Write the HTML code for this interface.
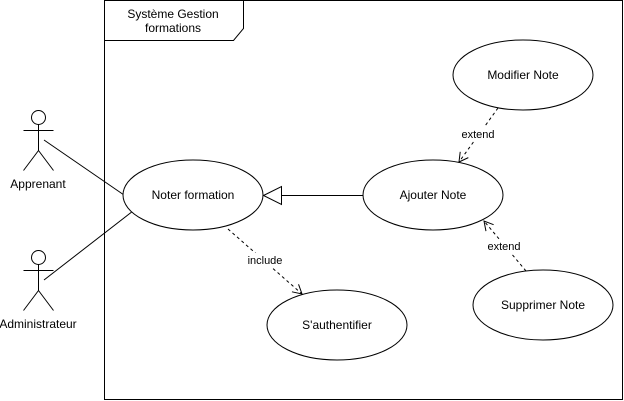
<!DOCTYPE html>
<html><head><meta charset="utf-8"><style>
html,body{margin:0;padding:0;background:#fff;}
svg{display:block;}
text{font-family:"Liberation Sans",Arial,sans-serif;font-size:12px;fill:#000;}
</style></head><body>
<svg width="624" height="401" viewBox="0 0 624 401" xmlns="http://www.w3.org/2000/svg">
<defs>
<marker id="open" markerWidth="12" markerHeight="12" refX="10" refY="6" orient="auto" markerUnits="userSpaceOnUse">
<path d="M1,1 L10,6 L1,11" fill="none" stroke="#000" stroke-width="1"/>
</marker>
</defs>
<g stroke="#000" stroke-width="1" fill="none">
<rect x="104.5" y="0.5" width="518" height="399"/>
<path d="M104.5,40.5 L233.5,40.5 L243.5,28.5 L243.5,0.5"/>
<!-- actors -->
<circle cx="38.5" cy="117.5" r="7" fill="#fff"/>
<path d="M38.5,124.5 V150.5 M23.5,130.5 H53.5 M38.5,150.5 L23.5,170.5 M38.5,150.5 L53.5,170.5"/>
<circle cx="38.5" cy="257.5" r="7" fill="#fff"/>
<path d="M38.5,264.5 V290.5 M23.5,270.5 H53.5 M38.5,290.5 L23.5,310.5 M38.5,290.5 L53.5,310.5"/>
<path d="M44,140 L124,195"/>
<path d="M44,280 L133,211"/>
<!-- ellipses -->
<ellipse cx="193" cy="195" rx="70" ry="35" fill="#fff"/>
<ellipse cx="433" cy="195" rx="70" ry="35" fill="#fff"/>
<ellipse cx="523" cy="75" rx="70" ry="35" fill="#fff"/>
<ellipse cx="543" cy="305" rx="70" ry="35" fill="#fff"/>
<ellipse cx="337" cy="325" rx="70" ry="35" fill="#fff"/>
<!-- generalization -->
<path d="M363,195.5 H281"/>
<path d="M263.5,195.5 L281.5,186.5 L281.5,204.5 Z" fill="#fff"/>
<!-- include / extend -->
<path d="M228,229 L302,294" stroke-dasharray="3,3" marker-end="url(#open)"/>
<path d="M498,108 L459,162" stroke-dasharray="3,3" marker-end="url(#open)"/>
<path d="M526,271 L484,221" stroke-dasharray="3,3" marker-end="url(#open)"/>
</g>
<rect x="247" y="253" width="36" height="14" fill="#fff"/>
<text x="265" y="264" text-anchor="middle" font-size="11" style="font-size:11px">include</text>
<rect x="461" y="127" width="34" height="14" fill="#fff"/>
<text x="478" y="138" text-anchor="middle" style="font-size:11px">extend</text>
<rect x="487" y="239" width="34" height="14" fill="#fff"/>
<text x="504" y="250" text-anchor="middle" style="font-size:11px">extend</text>
<text x="173" y="18" text-anchor="middle">Système Gestion</text>
<text x="173" y="32" text-anchor="middle">formations</text>
<text x="38" y="188" text-anchor="middle">Apprenant</text>
<text x="38" y="328" text-anchor="middle">Administrateur</text>
<text x="193" y="199" text-anchor="middle">Noter formation</text>
<text x="433" y="199" text-anchor="middle">Ajouter Note</text>
<text x="523" y="79" text-anchor="middle">Modifier Note</text>
<text x="543" y="309" text-anchor="middle">Supprimer Note</text>
<text x="337" y="329" text-anchor="middle">S'authentifier</text>
</svg>
</body></html>
